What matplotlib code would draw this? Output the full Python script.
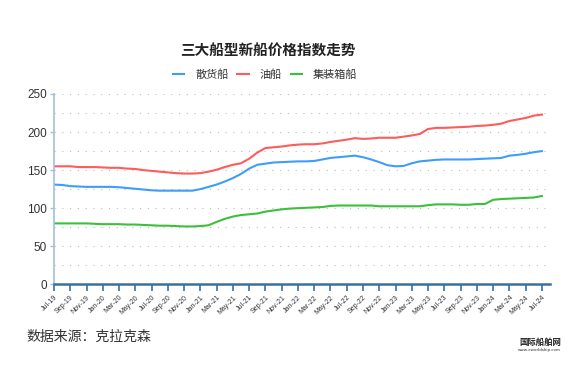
import numpy as np
import matplotlib
matplotlib.use("Agg")
import matplotlib.pyplot as plt

plt.rcParams["font.family"] = ["Noto Sans CJK SC", "DejaVu Sans"]
plt.rcParams["axes.unicode_minus"] = False

# 月度数据 Jul-19 ~ Jul-24
months = ["Jul-19", "Aug-19", "Sep-19", "Oct-19", "Nov-19", "Dec-19",
          "Jan-20", "Feb-20", "Mar-20", "Apr-20", "May-20", "Jun-20",
          "Jul-20", "Aug-20", "Sep-20", "Oct-20", "Nov-20", "Dec-20",
          "Jan-21", "Feb-21", "Mar-21", "Apr-21", "May-21", "Jun-21",
          "Jul-21", "Aug-21", "Sep-21", "Oct-21", "Nov-21", "Dec-21",
          "Jan-22", "Feb-22", "Mar-22", "Apr-22", "May-22", "Jun-22",
          "Jul-22", "Aug-22", "Sep-22", "Oct-22", "Nov-22", "Dec-22",
          "Jan-23", "Feb-23", "Mar-23", "Apr-23", "May-23", "Jun-23",
          "Jul-23", "Aug-23", "Sep-23", "Oct-23", "Nov-23", "Dec-23",
          "Jan-24", "Feb-24", "Mar-24", "Apr-24", "May-24", "Jun-24",
          "Jul-24"]

bulk = [131, 130.5, 129, 128.5, 128, 128, 128, 128, 127.5, 126.5, 125.5, 124.5,
        123.5, 123, 123, 123, 123, 123, 125, 128, 131, 135, 139.5, 145,
        152, 157, 158.5, 160, 160.5, 161, 161.5, 161.5, 162, 164, 166, 167,
        168, 169, 167, 164, 160.5, 156.5, 155, 155.5, 159, 161.5, 162.5, 163.5,
        164, 164, 164, 164, 164.5, 165, 165.5, 166, 169, 170, 171.5, 173.5,
        175]

tanker = [155, 155, 155, 154, 154, 154, 153.5, 153, 153, 152, 151.5, 150,
          149, 148, 147, 146, 145.5, 145.5, 146, 148, 150.5, 154, 157, 159,
          165, 173, 179, 180, 181, 182.5, 183.5, 184, 184, 185, 187, 188.5,
          190, 192, 191, 191.5, 192.5, 192.5, 192.5, 194, 195.5, 197.5, 204, 205.5,
          205.5, 206, 206.5, 207, 208, 208.5, 209.5, 211, 214.5, 216.5, 218.5, 221.5,
          223]

container = [80, 80, 80, 80, 80, 79.5, 79, 79, 79, 78.5, 78.5, 78,
             77.5, 77, 77, 76.5, 76, 76, 76.5, 77.5, 82, 86, 89, 91,
             92, 93, 95.5, 97, 98.5, 99.5, 100, 100.5, 101, 101.5, 103, 103.5,
             103.5, 103.5, 103.5, 103.5, 102.5, 102.5, 102.5, 102.5, 102.5, 102.5, 104, 105,
             105, 105, 104.5, 104.5, 105.5, 105.5, 111, 112, 112.5, 113, 113.5, 114,
             116]

x = np.arange(len(months))

fig = plt.figure(figsize=(5.83, 3.67), dpi=100)
ax = fig.add_axes([0.0926, 0.2253, 0.8508, 0.5186])

ax.plot(x, bulk, color="#3f9cff", lw=1.5, label="散货船")
ax.plot(x, tanker, color="#ff5b5b", lw=1.5, label="油船")
ax.plot(x, container, color="#3cbf3c", lw=1.5, label="集装箱船")

ax.set_xlim(0, 61)
ax.set_ylim(0, 250)
ax.set_yticks(np.arange(0, 251, 50))
for v in np.arange(25, 251, 25):
    ax.axhline(v, color="#bbbbbb", lw=0.8, ls=(0, (1, 6)), zorder=0)

ax.set_xticks(x[::2])
ax.set_xticklabels(months[::2], rotation=45, ha="right", rotation_mode="anchor",
                   fontsize=5, color="#333333", family="Liberation Sans")
ax.tick_params(axis="x", length=5, width=1.2, color="#3a6ea5", pad=2)
ax.tick_params(axis="y", length=3, width=1, color="#a3bde0",
               labelsize=8.5, labelcolor="#333333", pad=2)
for lab in ax.get_yticklabels():
    lab.set_family("Liberation Sans")

for s in ["top", "right"]:
    ax.spines[s].set_visible(False)
ax.spines["left"].set_color("#a3bde0")
ax.spines["left"].set_linewidth(1.2)
ax.spines["bottom"].set_color("#3a6ea5")
ax.spines["bottom"].set_linewidth(1.8)

fig.text(0.459, 0.862, "三大船型新船价格指数走势", ha="center", va="center",
         fontsize=10.5, fontweight="bold", color="#222222")
fig.legend(loc="center", bbox_to_anchor=(0.455, 0.796), ncol=3, frameon=False,
           fontsize=8, handlelength=1.0, handletextpad=1.0, columnspacing=0.8,
           labelcolor="#333333")

fig.text(0.045, 0.083, "数据来源：克拉克森", ha="left", va="center",
         fontsize=10, style="italic", color="#333333")
fig.text(0.962, 0.068, "国际船舶网", ha="right", va="center",
         fontsize=6, fontweight="bold", color="#222222")
fig.text(0.962, 0.045, "www.eworldship.com", ha="right", va="center",
         fontsize=3, color="#222222")

plt.savefig("out.png", dpi=100)
